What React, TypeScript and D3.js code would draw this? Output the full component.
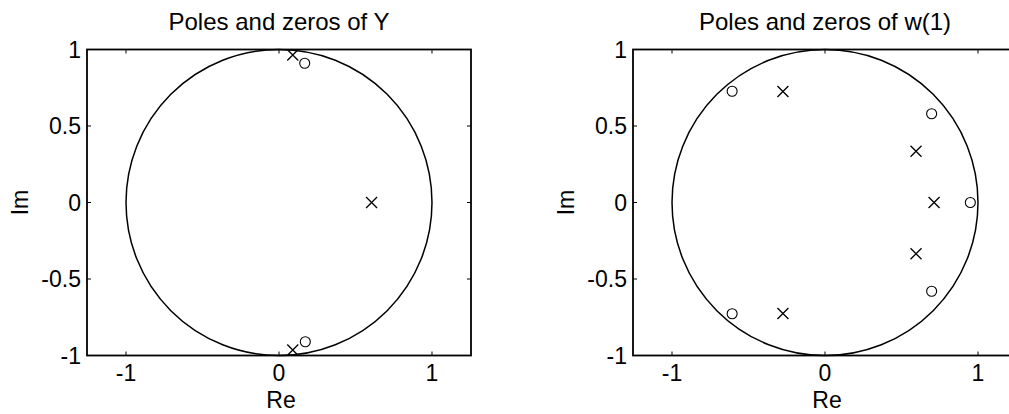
import React from "react";
import * as d3 from "d3";

// Pole / zero locations (real, imaginary) for each plot
const yPolesRe = [0.09, 0.09, 0.605];
const yPolesIm = [0.964, -0.964, 0];
const yZerosRe = [0.168, 0.172];
const yZerosIm = [0.91, -0.91];

const wPolesRe = [-0.275, -0.275, 0.595, 0.595, 0.713];
const wPolesIm = [0.725, -0.725, 0.335, -0.335, 0];
const wZerosRe = [-0.607, -0.607, 0.697, 0.697, 0.95];
const wZerosIm = [0.727, -0.727, 0.58, -0.58, 0];

const xTicks = [-1, 0, 1];
const yTicks = [-1, -0.5, 0, 0.5, 1];
const xTickLabels = ["-1", "0", "1"];
const yTickLabels = ["-1", "-0.5", "0", "0.5", "1"];

const FONT = "'Liberation Sans', Arial, Helvetica, sans-serif";
const FS = 23;
const TITLE_FS = 24;

type PZProps = {
  left: number;
  title: string;
  polesRe: number[];
  polesIm: number[];
  zerosRe: number[];
  zerosIm: number[];
};

function PoleZeroPlot({ left, title, polesRe, polesIm, zerosRe, zerosIm }: PZProps) {
  const top = 49.5;
  const bottom = 355.5;
  const width = 384;
  const x = d3.scaleLinear().domain([-1.255, 1.255]).range([left, left + width]);
  const y = d3.scaleLinear().domain([-1, 1]).range([bottom, top]);
  const r = x(1) - x(0);
  const tick = 4;
  const xs = 5.5; // half-size of the pole cross
  const cx = x(0);
  const cy = y(0);

  return (
    <g>
      <text
        x={cx}
        y={30}
        textAnchor="middle"
        fontFamily={FONT}
        fontSize={TITLE_FS}
        fill="#000"
      >
        {title}
      </text>

      {/* unit circle */}
      <circle cx={cx} cy={cy} r={r} fill="none" stroke="#000" strokeWidth={1.5} />

      {/* axes box */}
      <rect
        x={x.range()[0]}
        y={top}
        width={width}
        height={bottom - top}
        fill="none"
        stroke="#000"
        strokeWidth={1.8}
      />

      {/* ticks on all four sides, pointing inward */}
      {xTicks.map((t) => (
        <g key={"xt" + t}>
          <line x1={x(t)} x2={x(t)} y1={bottom} y2={bottom - tick} stroke="#000" strokeWidth={1} />
          <line x1={x(t)} x2={x(t)} y1={top} y2={top + tick} stroke="#000" strokeWidth={1} />
        </g>
      ))}
      {yTicks.map((t) => (
        <g key={"yt" + t}>
          <line x1={x.range()[0]} x2={x.range()[0] + tick} y1={y(t)} y2={y(t)} stroke="#000" strokeWidth={1} />
          <line x1={x.range()[1]} x2={x.range()[1] - tick} y1={y(t)} y2={y(t)} stroke="#000" strokeWidth={1} />
        </g>
      ))}

      {/* tick labels */}
      {xTicks.map((t, i) => (
        <text
          key={"xl" + t}
          x={x(t)}
          y={381}
          textAnchor="middle"
          fontFamily={FONT}
          fontSize={FS}
          fill="#000"
        >
          {xTickLabels[i]}
        </text>
      ))}
      {yTicks.map((t, i) => (
        <text
          key={"yl" + t}
          x={x.range()[0] - 6}
          y={y(t) + 8.2}
          textAnchor="end"
          fontFamily={FONT}
          fontSize={FS}
          fill="#000"
        >
          {yTickLabels[i]}
        </text>
      ))}

      {/* axis labels */}
      <text x={cx + 2} y={408} textAnchor="middle" fontFamily={FONT} fontSize={FS} fill="#000">
        Re
      </text>
      <text
        transform={`translate(${x.range()[0] - 59},${cy}) rotate(-90)`}
        textAnchor="middle"
        fontFamily={FONT}
        fontSize={FS}
        fill="#000"
      >
        Im
      </text>

      {/* zeros */}
      {zerosRe.map((re, i) => (
        <circle
          key={"z" + i}
          cx={x(re)}
          cy={y(zerosIm[i])}
          r={5}
          fill="none"
          stroke="#000"
          strokeWidth={1.1}
        />
      ))}

      {/* poles */}
      {polesRe.map((re, i) => {
        const px = x(re);
        const py = y(polesIm[i]);
        return (
          <path
            key={"p" + i}
            d={`M${px - xs},${py - xs}L${px + xs},${py + xs}M${px - xs},${py + xs}L${px + xs},${py - xs}`}
            stroke="#000"
            strokeWidth={1.3}
            fill="none"
          />
        );
      })}
    </g>
  );
}

export default function App() {
  return (
    <svg
      width={1009}
      height={414}
      style={{ position: "absolute", left: 0, top: 0, background: "#fff" }}
    >
      <rect x={0} y={0} width={1009} height={414} fill="#fff" />
      <PoleZeroPlot
        left={87}
        title="Poles and zeros of Y"
        polesRe={yPolesRe}
        polesIm={yPolesIm}
        zerosRe={yZerosRe}
        zerosIm={yZerosIm}
      />
      <PoleZeroPlot
        left={633}
        title="Poles and zeros of w(1)"
        polesRe={wPolesRe}
        polesIm={wPolesIm}
        zerosRe={wZerosRe}
        zerosIm={wZerosIm}
      />
    </svg>
  );
}
